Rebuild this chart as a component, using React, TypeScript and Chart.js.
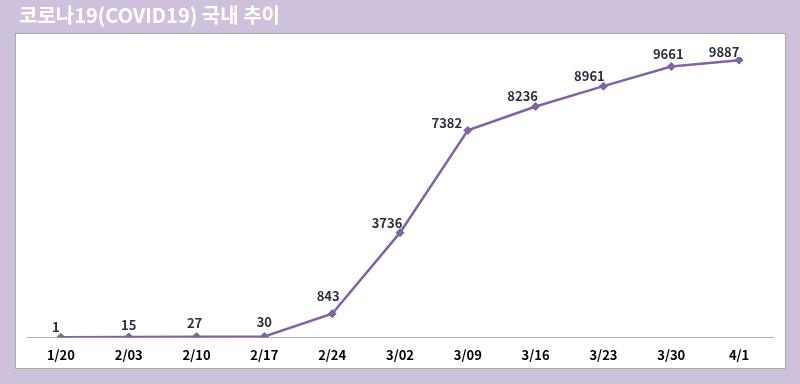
import React, { useEffect, useRef } from "react";
import { Chart, registerables } from "chart.js";

Chart.register(...registerables);

const categories = ["1/20", "2/03", "2/10", "2/17", "2/24", "3/02", "3/09", "3/16", "3/23", "3/30", "4/1"];
const cases = [1, 15, 27, 30, 843, 3736, 7382, 8236, 8961, 9661, 9887];
const labelDx = [-5, 0, -2, 0, -4, -13, -21, -13, -14, -3, -15];
const labelDy = [-10, -12, -14, -14, -18, -10, -7, -10, -10, -12, -8];
const titleText = "코로나19(COVID19) 국내 추이";

const FONT = "'Noto Sans CJK KR', 'Open Sans', sans-serif";

const panelPlugin = {
  id: "panel",
  beforeDraw(chart: any) {
    const ctx = chart.ctx;
    ctx.save();
    ctx.fillStyle = "#cdc1dc";
    ctx.fillRect(0, 0, chart.width, chart.height);
    ctx.fillStyle = "#ffffff";
    ctx.fillRect(15, 33, 771, 336);
    ctx.strokeStyle = "#a8a8a8";
    ctx.lineWidth = 1;
    ctx.strokeRect(15.5, 33.5, 770, 335);
    ctx.fillStyle = "#ffffff";
    ctx.font = "bold 20px " + FONT;
    ctx.textBaseline = "middle";
    ctx.textAlign = "left";
    ctx.fillText(titleText, 19, 15);
    ctx.restore();
  },
  afterDatasetsDraw(chart: any) {
    const ctx = chart.ctx;
    const meta = chart.getDatasetMeta(0);
    ctx.save();
    ctx.fillStyle = "#2e2e40";
    ctx.font = "600 13px " + FONT;
    ctx.textAlign = "center";
    ctx.textBaseline = "middle";
    meta.data.forEach((pt: any, i: number) => {
      ctx.fillText(String(cases[i]), pt.x + labelDx[i], pt.y + labelDy[i]);
    });
    ctx.restore();
  },
};

export default function App() {
  const ref = useRef<HTMLCanvasElement>(null);
  useEffect(() => {
    if (!ref.current) return;
    const chart = new Chart(ref.current, {
      type: "line",
      data: {
        labels: categories,
        datasets: [
          {
            data: cases,
            borderColor: "#8064a2",
            backgroundColor: "#8064a2",
            borderWidth: 2.5,
            pointStyle: "rectRot",
            pointRadius: 4,
            pointBorderWidth: 1,
            tension: 0,
          },
        ],
      },
      options: {
        animation: false,
        responsive: false,
        layout: { padding: { left: 27, right: 27, top: 57, bottom: 19 } },
        plugins: { legend: { display: false }, title: { display: false }, tooltip: { enabled: false } },
        scales: {
          x: {
            offset: true,
            grid: { display: false },
            border: { display: true, color: "#b0b0b0", width: 1 },
            ticks: {
              color: "#000000",
              font: { family: FONT, size: 13, weight: "bold" },
              padding: 2,
              maxRotation: 0,
            },
          },
          y: { display: false, min: 0, max: 10000 },
        },
      },
      plugins: [panelPlugin],
    });
    return () => chart.destroy();
  }, []);
  return (
    <div style={{ position: "fixed", left: 0, top: 0, width: 800, height: 384 }}>
      <canvas ref={ref} width={800} height={384} style={{ display: "block" }} />
    </div>
  );
}
